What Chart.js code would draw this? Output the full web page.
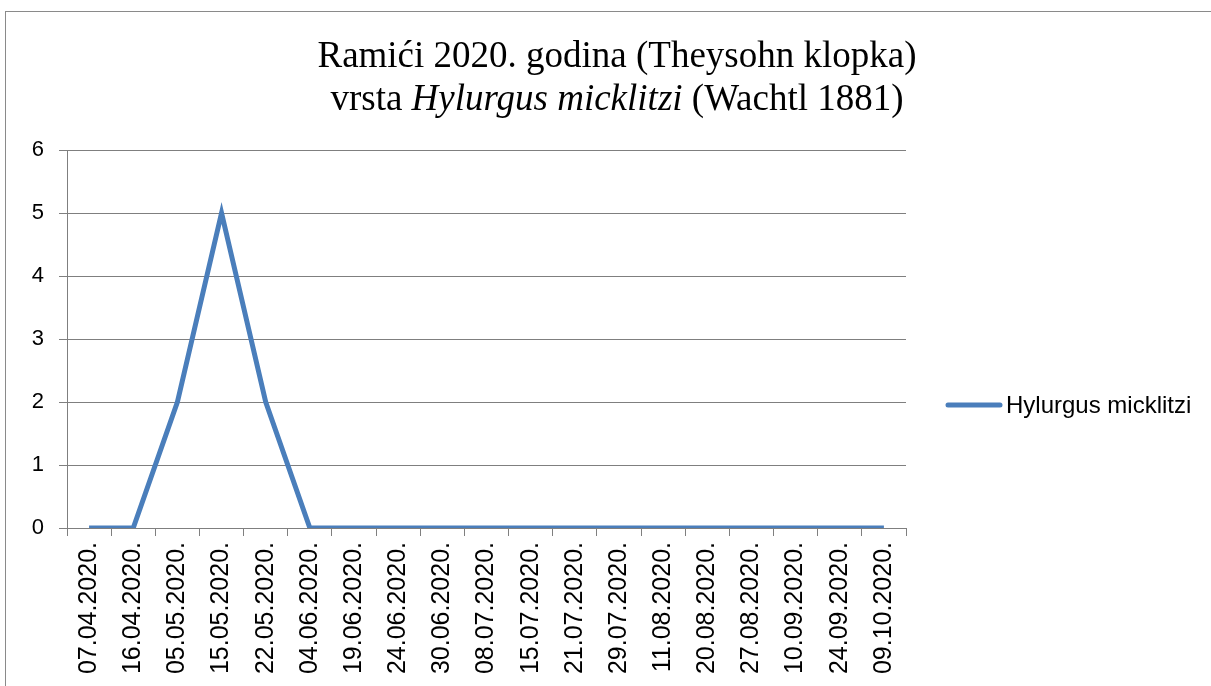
<!DOCTYPE html>
<html>
<head>
<meta charset="utf-8">
<script src="https://cdn.jsdelivr.net/npm/chart.js@4"></script>
<style>
  html, body { margin: 0; padding: 0; background: #fff; }
  canvas { display: block; }
</style>
</head>
<body>
<canvas id="trap-chart" width="1211" height="686"></canvas>
<script>
// collection dates and counts
var dates = ['07.04.2020.', '16.04.2020.', '05.05.2020.', '15.05.2020.', '22.05.2020.',
    '04.06.2020.', '19.06.2020.', '24.06.2020.', '30.06.2020.', '08.07.2020.',
    '15.07.2020.', '21.07.2020.', '29.07.2020.', '11.08.2020.', '20.08.2020.',
    '27.08.2020.', '10.09.2020.', '24.09.2020.', '09.10.2020.'];
var counts = [0, 0, 2, 5, 2, 0, 0, 0, 0, 0, 0, 0, 0, 0, 0, 0, 0, 0, 0];
var seriesName = 'Hylurgus micklitzi';
var titleLine1 = 'Ramići 2020. godina (Theysohn klopka)';
var titleLine2 = ['vrsta ', 'Hylurgus micklitzi', ' (Wachtl 1881)'];

var lineColor = '#4a7ebb';
var gridColor = '#7f7f7f';

var framePlugin = {
    id: 'frame',
    beforeDraw: function (chart) {
        var ctx = chart.ctx;
        ctx.save();
        ctx.fillStyle = '#fff';
        ctx.fillRect(0, 0, chart.width, chart.height);
        ctx.strokeStyle = '#8a8a8a';
        ctx.lineWidth = 1;
        ctx.strokeRect(5.5, 11.5, 1400, 1000);
        ctx.restore();
    }
};

var titlePlugin = {
    id: 'mixedTitle',
    afterDraw: function (chart) {
        var ctx = chart.ctx;
        var cx = 617;
        var font = '"Liberation Serif", "Times New Roman", serif';
        var size = '37px ';
        ctx.save();
        ctx.fillStyle = '#000';
        ctx.textBaseline = 'middle';
        ctx.textAlign = 'center';
        ctx.font = size + font;
        ctx.fillText(titleLine1, cx, 57);

        // second line, species name in italics
        ctx.textAlign = 'left';
        var styles = ['', 'italic ', ''];
        var widths = titleLine2.map(function (t, i) {
            ctx.font = styles[i] + size + font;
            return ctx.measureText(t).width;
        });
        var total = widths.reduce(function (a, b) { return a + b; }, 0);
        var x = cx - total / 2;
        titleLine2.forEach(function (t, i) {
            ctx.font = styles[i] + size + font;
            ctx.fillText(t, x, 100);
            x += widths[i];
        });
        ctx.restore();
    }
};

var legendPlugin = {
    id: 'sideLegend',
    afterDraw: function (chart) {
        var ctx = chart.ctx;
        var ds = chart.data.datasets[0];
        var y = 405;
        ctx.save();
        ctx.strokeStyle = ds.borderColor;
        ctx.lineWidth = ds.borderWidth;
        ctx.lineCap = 'round';
        ctx.beginPath();
        ctx.moveTo(948, y);
        ctx.lineTo(1000, y);
        ctx.stroke();
        ctx.fillStyle = '#000';
        ctx.font = '24px "Liberation Sans", Arial, sans-serif';
        ctx.textBaseline = 'middle';
        ctx.fillText(ds.label, 1006, y + 1);
        ctx.restore();
    }
};

new Chart('trap-chart', {
    type: 'line',
    data: {
        labels: dates,
        datasets: [{
            label: seriesName,
            data: counts,
            borderColor: lineColor,
            backgroundColor: lineColor,
            borderWidth: 5,
            pointRadius: 0,
            tension: 0,
            fill: false
        }]
    },
    options: {
        responsive: false,
        animation: false,
        devicePixelRatio: 1,
        layout: {
            padding: { top: 150, left: 0, right: 305, bottom: 0 }
        },
        plugins: {
            legend: { display: false },
            title: { display: false },
            tooltip: { enabled: false }
        },
        scales: {
            x: {
                offset: true,
                grid: {
                    offset: true,
                    drawOnChartArea: false,
                    tickLength: 8,
                    color: gridColor
                },
                border: { color: gridColor },
                ticks: {
                    autoSkip: false,
                    minRotation: 90,
                    maxRotation: 90,
                    padding: 6,
                    color: '#000',
                    font: { family: '"Liberation Sans", Arial, sans-serif', size: 25 }
                },
                afterFit: function (scale) { scale.height = 158; }
            },
            y: {
                min: 0,
                max: 6,
                grid: {
                    tickLength: 8,
                    color: gridColor
                },
                border: { color: gridColor },
                ticks: {
                    stepSize: 1,
                    padding: 15,
                    color: '#000',
                    font: { family: '"Liberation Sans", Arial, sans-serif', size: 22 }
                },
                afterFit: function (scale) { scale.width = 67; }
            }
        }
    },
    plugins: [framePlugin, titlePlugin, legendPlugin]
});
</script>
</body>
</html>
